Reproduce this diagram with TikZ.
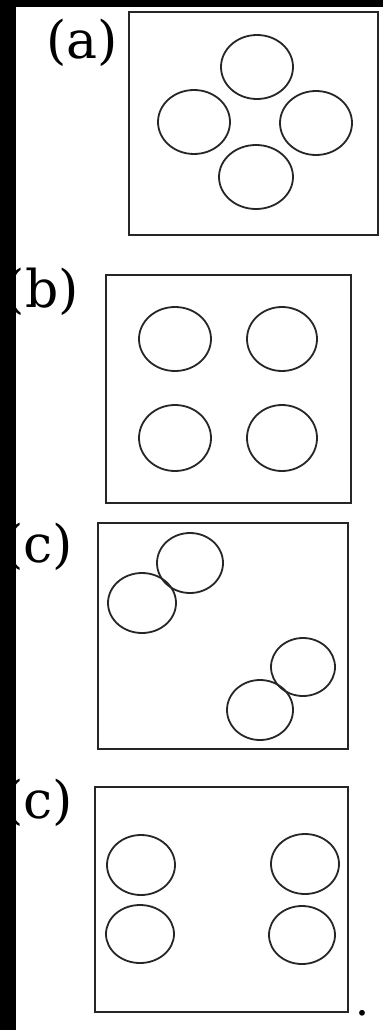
\documentclass[tikz,border=0pt]{standalone}
\usepackage{fontspec}
\setmainfont{DejaVu Serif}
\begin{document}
\begin{tikzpicture}[x=1pt,y=-1pt,
  frame/.style={draw=black!85,line width=2pt},
  ring/.style={draw=black!85,line width=1.8pt},
  lbl/.style={inner sep=0pt,font=\fontsize{52}{52}\selectfont,anchor=base east}]
\useasboundingbox (0,0) rectangle (383,1030);
\fill[white] (0,0) rectangle (383,1030);
% (a)
\draw[frame] (129,12) rectangle (378,235);
\draw[ring] (257,67) ellipse [x radius=36,y radius=32];
\draw[ring] (194,122) ellipse [x radius=36,y radius=32];
\draw[ring] (316,123) ellipse [x radius=36,y radius=32];
\draw[ring] (256,177) ellipse [x radius=37,y radius=32];
\node[lbl] (la) at (118,59) {(a)};
% (b)
\draw[frame] (106,275) rectangle (351,503);
\draw[ring] (175,339) ellipse [x radius=36,y radius=32];
\draw[ring] (282,339) ellipse [x radius=35,y radius=32];
\draw[ring] (175,438) ellipse [x radius=36,y radius=33];
\draw[ring] (282,438) ellipse [x radius=35,y radius=33];
\node[lbl] (lb) at (79,307) {(b)};
% (c)
\draw[frame] (98,523) rectangle (348,749);
\draw[ring] (190,563) ellipse [x radius=33,y radius=30];
\draw[ring] (142,603) ellipse [x radius=34,y radius=30];
\draw[ring] (303,667) ellipse [x radius=32,y radius=29];
\draw[ring] (260,710) ellipse [x radius=33,y radius=30];
\node[lbl] (lc) at (73,562) {(c)};
% (c) second
\draw[frame] (95,787) rectangle (348,1012);
\draw[ring] (141,865) ellipse [x radius=34,y radius=30];
\draw[ring] (305,864) ellipse [x radius=34,y radius=30];
\draw[ring] (140,934) ellipse [x radius=34,y radius=29];
\draw[ring] (302,935) ellipse [x radius=33,y radius=29];
\node[lbl] (ld) at (73,818) {(c)};
\node[inner sep=0pt,font=\fontsize{44}{44}\selectfont,anchor=base] (dot) at (362,1015) {.};
% black edges
\fill[black] (0,0) rectangle (16,1030);
\fill[black] (0,0) rectangle (383,7);
\end{tikzpicture}
\end{document}
